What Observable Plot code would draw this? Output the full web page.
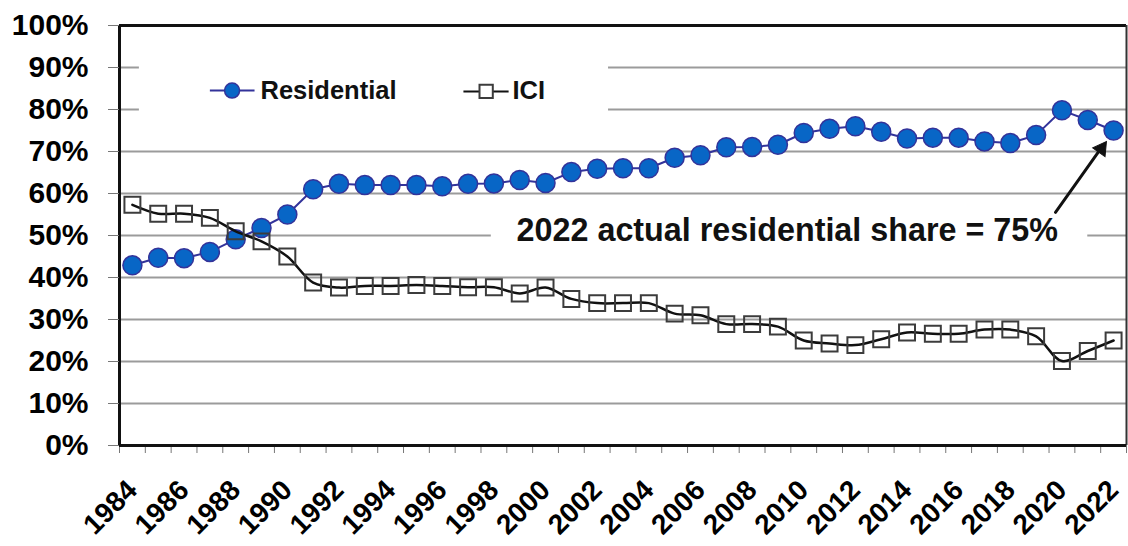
<!DOCTYPE html>
<html>
<head>
<meta charset="utf-8">
<script src="https://cdn.jsdelivr.net/npm/d3@7"></script>
<script src="https://cdn.jsdelivr.net/npm/@observablehq/plot@0.6"></script>
<style>
  body { margin: 0; background: #fff; }
  #chart svg { display: block; }
</style>
</head>
<body>
<div id="chart"></div>
<script>
// Share of sales by sector, 1984–2022 (percent)
const years = [1984, 1985, 1986, 1987, 1988, 1989, 1990, 1991, 1992, 1993,
               1994, 1995, 1996, 1997, 1998, 1999, 2000, 2001, 2002, 2003,
               2004, 2005, 2006, 2007, 2008, 2009, 2010, 2011, 2012, 2013,
               2014, 2015, 2016, 2017, 2018, 2019, 2020, 2021, 2022];

const residential = [42.9, 44.7, 44.6, 46.1, 49.1, 51.8, 55.0, 61.0, 62.3, 62.0,
                     62.0, 62.0, 61.7, 62.3, 62.4, 63.2, 62.5, 65.1, 65.9, 66.0,
                     66.0, 68.5, 69.1, 71.0, 71.1, 71.6, 74.4, 75.4, 76.0, 74.7,
                     73.1, 73.3, 73.3, 72.4, 72.0, 73.9, 79.8, 77.5, 75.0];

const ici = [57.3, 55.2, 55.2, 54.2, 51.0, 48.6, 45.0, 38.8, 37.6, 38.0,
             38.0, 38.2, 38.0, 37.7, 37.7, 36.2, 37.6, 34.9, 33.9, 33.9,
             33.9, 31.4, 31.0, 28.9, 28.9, 28.3, 25.0, 24.3, 23.9, 25.3,
             26.9, 26.6, 26.6, 27.6, 27.6, 26.0, 20.1, 22.5, 25.0];

const seriesNames = ["Residential", "ICI"];

const yTicks = [0, 10, 20, 30, 40, 50, 60, 70, 80, 90, 100];
const gridValues = [10, 20, 30, 40, 50, 60, 70, 80, 90];

const xTickLabels = [1984, 1986, 1988, 1990, 1992, 1994, 1996, 1998, 2000, 2002,
                     2004, 2006, 2008, 2010, 2012, 2014, 2016, 2018, 2020, 2022];

// ---- derived tables ----
const rows = years.map((year, i) => ({year, residential: residential[i], ici: ici[i]}));
const firstYear = years[0], lastYear = years[years.length - 1];
const xMin = firstYear - 0.5, xMax = lastYear + 0.5;
// category boundaries carry the small tick marks
const boundaries = years.map(y => y - 0.5).concat([xMax]);

const last = rows[rows.length - 1];
const noteText = `${last.year} actual residential share = ${last.residential}%`;

const FONT = "'Liberation Sans', Arial, Helvetica, sans-serif";
const NAVY = "#33339a";
const BLUE = "#0866c6";

const chart = Plot.plot({
  width: 1128,
  height: 546,
  marginLeft: 119,
  marginRight: 2,
  marginTop: 25,
  marginBottom: 101,
  style: {fontFamily: FONT, fontWeight: "bold", color: "#000", background: "#fff"},
  x: {type: "linear", domain: [xMin, xMax]},
  y: {domain: [0, 100]},
  marks: [
    // horizontal gridlines
    Plot.ruleY(gridValues, {stroke: "#9b9b9b", strokeWidth: 2}),

    // white panels behind the legend and the note
    Plot.rect([{x1: 1984.27, x2: 2002.44, y1: 76, y2: 94}],
      {x1: "x1", x2: "x2", y1: "y1", y2: "y2", fill: "#fff"}),
    Plot.rect([{x1: 1997.9, x2: 2021.0, y1: 46, y2: 55}],
      {x1: "x1", x2: "x2", y1: "y1", y2: "y2", fill: "#fff"}),

    // Residential series
    Plot.line(rows, {x: "year", y: "residential", stroke: NAVY, strokeWidth: 2}),
    Plot.dot(rows, {x: "year", y: "residential", r: 9.5, fill: BLUE, stroke: NAVY, strokeWidth: 1.5}),

    // ICI series (smoothed line, open squares)
    Plot.line(rows, {x: "year", y: "ici", stroke: "#111", strokeWidth: 2.5, curve: "catmull-rom"}),
    Plot.dot(rows, {x: "year", y: "ici", symbol: "square", r: 9, fill: "none", stroke: "#3c3c3c", strokeWidth: 2}),

    // plot frame
    Plot.ruleY([100], {stroke: "#111", strokeWidth: 3}),
    Plot.ruleX([xMin], {stroke: "#111", strokeWidth: 3}),
    Plot.ruleX([xMax], {stroke: "#333", strokeWidth: 2}),

    // y axis
    Plot.axisY({ticks: yTicks, tickSize: 11, tickPadding: 20, tickFormat: d => d + "%",
                fontSize: 30, fontWeight: "bold", stroke: "#777", label: null}),

    // x axis: small ticks between categories, labels on even years
    Plot.axisX({ticks: boundaries, tickSize: 8, tickFormat: () => "", stroke: "#777", label: null}),
    Plot.axisX({ticks: xTickLabels, tickSize: 0, tickPadding: 40, tickRotate: -45,
                tickFormat: d => String(d), fontSize: 28, fontWeight: "bold", label: null}),
    Plot.ruleY([0], {stroke: "#111", strokeWidth: 3}),

    // legend
    Plot.link([{x1: 1987.0, x2: 1988.73, y: 84.5}],
      {x1: "x1", x2: "x2", y1: "y", y2: "y", stroke: NAVY, strokeWidth: 2}),
    Plot.dot([{x: 1987.86, y: 84.5}], {x: "x", y: "y", r: 7.5, fill: BLUE, stroke: NAVY, strokeWidth: 1.5}),
    Plot.text([{x: 1988.96, y: 84.5, t: seriesNames[0]}],
      {x: "x", y: "y", text: "t", textAnchor: "start", fontSize: 25.5, fontWeight: "bold", fill: "#111"}),
    Plot.link([{x1: 1996.82, x2: 1998.57, y: 84.3}],
      {x1: "x1", x2: "x2", y1: "y", y2: "y", stroke: "#111", strokeWidth: 2}),
    Plot.dot([{x: 1997.7, y: 84.3}], {x: "x", y: "y", symbol: "square", r: 7.5, fill: "#fff", stroke: "#3c3c3c", strokeWidth: 2}),
    Plot.text([{x: 1998.72, y: 84.5, t: seriesNames[1]}],
      {x: "x", y: "y", text: "t", textAnchor: "start", fontSize: 25.5, fontWeight: "bold", fill: "#111"}),

    // note with arrow to the last residential point
    Plot.text([{x: 1998.88, y: 51.2, t: noteText}],
      {x: "x", y: "y", text: "t", textAnchor: "start", fontSize: 32.3, fontWeight: "bold", fill: "#111"}),
    Plot.arrow([{x1: 2019.75, y1: 55.5, x2: last.year, y2: last.residential}],
      {x1: "x1", y1: "y1", x2: "x2", y2: "y2", stroke: "#111", strokeWidth: 3,
       headLength: 0, insetEnd: 24}),
    // solid arrowhead just below the last residential point
    Plot.dot([last], {x: "year", y: "residential", symbol: "triangle2", r: 7.2, rotate: 35.3,
                      dx: -12.2, dy: 18.2, fill: "#111", stroke: "#111", strokeWidth: 1})
  ]
});

document.getElementById("chart").append(chart);
</script>
</body>
</html>
